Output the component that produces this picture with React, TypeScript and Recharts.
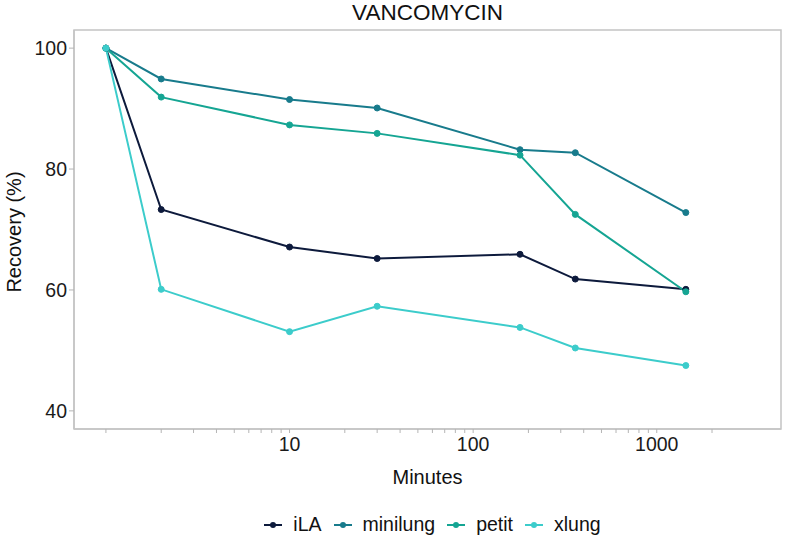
import React from "react";
import {
  LineChart,
  Line,
  XAxis,
  YAxis,
  ReferenceArea,
} from "recharts";

const minutes = [1, 2, 10, 30, 180, 360, 1440];
const iLA = [100, 73.3, 67.1, 65.2, 65.9, 61.8, 60.1];
const minilung = [100, 94.9, 91.5, 90.1, 83.2, 82.7, 72.8];
const petit = [100, 91.9, 87.3, 85.9, 82.3, 72.5, 59.7];
const xlung = [100, 60.1, 53.1, 57.3, 53.8, 50.4, 47.5];

const xTicks = [
  1, 2, 3, 4, 5, 6, 7, 8, 9,
  10, 20, 30, 40, 50, 60, 70, 80, 90,
  100, 200, 300, 400, 500, 600, 700, 800, 900,
  1000, 2000,
];
const xLabels = [10, 100, 1000];
const yTicks = [40, 60, 80, 100];

const series = [
  { key: "iLA", color: "#0d1a3c", values: iLA },
  { key: "minilung", color: "#187b8c", values: minilung },
  { key: "petit", color: "#15a593", values: petit },
  { key: "xlung", color: "#3ccccb", values: xlung },
];

const data = minutes.map((t, i) => {
  const row: Record<string, number> = { t };
  series.forEach((s) => {
    row[s.key] = s.values[i];
  });
  return row;
});

const font = "'Liberation Sans', Arial, sans-serif";
const grey = "#c4c4c4";

export default function App() {
  return (
    <div
      style={{
        position: "absolute",
        left: 0,
        top: 0,
        width: 785,
        height: 538,
        background: "#fff",
        fontFamily: font,
      }}
    >
      <div
        style={{
          position: "absolute",
          left: 74,
          width: 707,
          top: 0,
          textAlign: "center",
          fontSize: 22.5,
          color: "#111",
        }}
      >
        VANCOMYCIN
      </div>

      <LineChart
        width={785}
        height={538}
        data={data}
        margin={{ top: 30, right: 4, bottom: 0, left: 14 }}
      >
        <ReferenceArea
          x1={0.67}
          x2={4750}
          y1={37}
          y2={103}
          fill="none"
          stroke={grey}
          strokeWidth={1.5}
          fillOpacity={0}
          ifOverflow="visible"
        />
        <XAxis
          dataKey="t"
          type="number"
          scale="log"
          domain={[0.67, 4750]}
          allowDataOverflow
          ticks={xTicks}
          interval={0}
          tickFormatter={(v: number) => (xLabels.includes(v) ? String(v) : "")}
          height={109}
          tickSize={4}
          tickMargin={4}
          axisLine={{ stroke: grey, strokeWidth: 1.5 }}
          tickLine={{ stroke: "#b5b5b5" }}
          tick={{ fill: "#1a1a1a", fontSize: 19.5, fontFamily: font }}
        />
        <YAxis
          type="number"
          domain={[37, 103]}
          allowDataOverflow
          ticks={yTicks}
          width={60}
          tickSize={5}
          tickMargin={2}
          axisLine={{ stroke: grey, strokeWidth: 1.5 }}
          tickLine={{ stroke: "#b5b5b5" }}
          tick={{ fill: "#1a1a1a", fontSize: 19.5, fontFamily: font }}
        />
        {series.map((s) => (
          <Line
            key={s.key}
            dataKey={s.key}
            type="linear"
            stroke={s.color}
            strokeWidth={2}
            dot={{ r: 3, fill: s.color, stroke: s.color, strokeWidth: 1 }}
            activeDot={false}
            isAnimationActive={false}
          />
        ))}
      </LineChart>

      <div
        style={{
          position: "absolute",
          left: 74,
          width: 707,
          top: 466,
          textAlign: "center",
          fontSize: 20,
          color: "#111",
        }}
      >
        Minutes
      </div>

      <div
        style={{
          position: "absolute",
          left: 14,
          top: 232,
          transform: "translate(-50%, -50%) rotate(-90deg)",
          whiteSpace: "nowrap",
          fontSize: 20,
          color: "#111",
        }}
      >
        Recovery (%)
      </div>

      <div
        style={{
          position: "absolute",
          left: 0,
          width: 785,
          top: 513,
          display: "flex",
          justifyContent: "center",
          paddingLeft: 90,
          boxSizing: "border-box",
          fontSize: 19.5,
          color: "#111",
        }}
      >
        {series.map((s) => (
          <div
            key={s.key}
            style={{ display: "flex", alignItems: "center", marginRight: 11 }}
          >
            <svg width={20} height={20} style={{ marginRight: 10 }}>
              <line x1={1} y1={10} x2={19} y2={10} stroke={s.color} strokeWidth={2} />
              <circle cx={10} cy={10} r={3} fill={s.color} />
            </svg>
            <span>{s.key}</span>
          </div>
        ))}
      </div>
    </div>
  );
}
